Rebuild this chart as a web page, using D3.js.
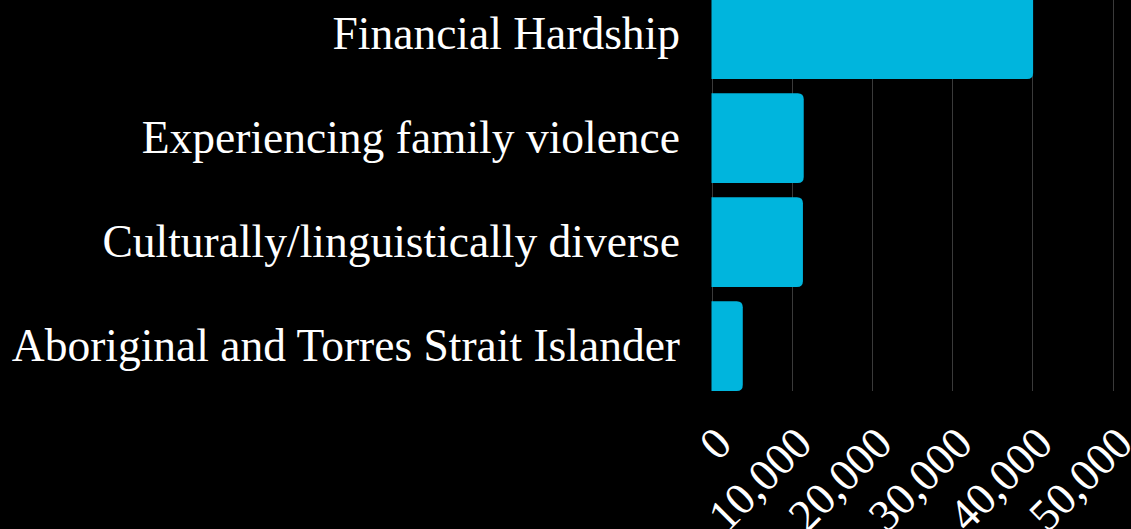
<!DOCTYPE html>
<html>
<head>
<meta charset="utf-8">
<script src="https://cdn.jsdelivr.net/npm/d3@7"></script>
<style>
  html, body { margin: 0; padding: 0; background: #000; overflow: hidden; }
  svg { display: block; }
</style>
</head>
<body>
<script>
// data
const categories = [
  "Financial Hardship",
  "Experiencing family violence",
  "Culturally/linguistically diverse",
  "Aboriginal and Torres Strait Islander"
];
const counts = [40100, 11500, 11400, 3900];
const xTicks = [0, 10000, 20000, 30000, 40000, 50000];

const W = 1131, H = 529;
const plotLeft = 711.5, plotRight = 1112.5;
const plotTop = -10.7, plotBottom = 391;
const barColor = "#00b5dd";
const labelFont = "'Liberation Serif', 'DejaVu Serif', serif";

const svg = d3.select("body")
  .append("svg")
  .attr("width", W)
  .attr("height", H);

const data = categories.map((c, i) => ({ name: c, value: counts[i] }));

const x = d3.scaleLinear()
  .domain([0, 50000])
  .range([plotLeft, plotRight]);

const y = d3.scaleBand()
  .domain(categories)
  .range([plotTop, plotBottom])
  .paddingInner(0.137)
  .paddingOuter(0);

// grid lines
svg.append("g")
  .selectAll("line")
  .data(xTicks)
  .enter()
  .append("line")
  .attr("x1", d => Math.round(x(d)) + 0.5)
  .attr("x2", d => Math.round(x(d)) + 0.5)
  .attr("y1", 0)
  .attr("y2", plotBottom)
  .attr("stroke", "#3a3a3a")
  .attr("stroke-width", 1);

// bars, rounded on the right end only
function barPath(d){
  const x0 = x(0), x1 = x(d.value);
  const y0 = y(d.name), h = y.bandwidth();
  const r = Math.min(6, (x1 - x0) / 2);
  return `M${x0},${y0} H${x1 - r} Q${x1},${y0} ${x1},${y0 + r}` +
    ` V${y0 + h - r} Q${x1},${y0 + h} ${x1 - r},${y0 + h} H${x0} Z`;
}

svg.append("g")
  .selectAll("path")
  .data(data)
  .enter()
  .append("path")
  .attr("d", barPath)
  .attr("fill", barColor);

// category labels
svg.append("g")
  .selectAll("text")
  .data(data)
  .enter()
  .append("text")
  .attr("x", 680)
  .attr("y", d => y(d.name) + y.bandwidth() / 2)
  .attr("dy", "0.33em")
  .attr("text-anchor", "end")
  .attr("fill", "#fff")
  .style("font-family", labelFont)
  .style("font-size", "45.5px")
  .text(d => d.name);

// x axis, rotated labels
const xAxis = svg.append("g")
  .attr("transform", "translate(0," + plotBottom + ")")
  .call(d3.axisBottom(x).tickValues(xTicks).tickSize(0).tickFormat(d3.format(",")));

xAxis.select(".domain").remove();

xAxis.selectAll("text")
  .attr("x", 0)
  .attr("y", 0)
  .attr("dy", 0)
  .attr("text-anchor", "end")
  .attr("transform", "translate(22,55) rotate(-45)")
  .attr("fill", "#fff")
  .style("font-family", labelFont)
  .style("font-size", "45px");
</script>
</body>
</html>
